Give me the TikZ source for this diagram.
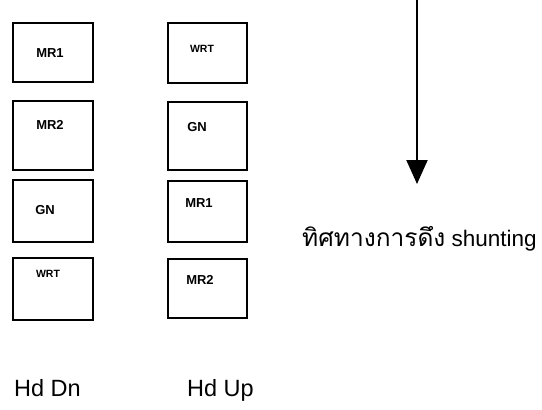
\documentclass[tikz,border=0pt]{standalone}
\usepackage{fontspec}
\setmainfont{Liberation Sans}
\newfontfamily\thaifont[Script=Thai]{Loma}
\usetikzlibrary{arrows.meta}
\tikzset{
  car/.style={draw, line width=1.8pt, minimum width=80pt, minimum height=60pt, inner sep=0pt},
  lbl/.style={inner sep=0pt, font=\fontsize{13}{13}\selectfont\bfseries},
  smalllbl/.style={inner sep=0pt, font=\fontsize{10.5}{10.5}\selectfont\bfseries},
  head/.style={inner sep=0pt, anchor=base west, font=\fontsize{23.5}{24}\selectfont},
  dirarrow/.style={line width=2pt, -{Triangle[width=21pt,length=24pt]}}
}
\begin{document}
\begin{tikzpicture}[x=1pt,y=-1pt]
\useasboundingbox (0,0) rectangle (542,410);
% left column (Hd Dn)
\node[car, minimum height=59pt] (l1) at (53,52.5) {};
\node[car, minimum height=69pt] (l2) at (53,135.5) {};
\node[car, minimum height=62pt] (l3) at (53,211) {};
\node[car, minimum height=62pt] (l4) at (53,289) {};
% right column (Hd Up)
\node[car, minimum width=79pt] (r1) at (207.5,53) {};
\node[car, minimum width=79pt, minimum height=68pt] (r2) at (207.5,136) {};
\node[car, minimum width=79pt, minimum height=61pt] (r3) at (207.5,211.5) {};
\node[car, minimum width=79pt, minimum height=59pt] (r4) at (207.5,288.5) {};
% labels
\node[lbl] (t1) at (50,53) {MR1};
\node[lbl] (t2) at (50,125) {MR2};
\node[lbl] (t3) at (45,210) {GN};
\node[smalllbl] (t4) at (48,274) {WRT};
\node[smalllbl] (u1) at (202,49) {WRT};
\node[lbl] (u2) at (197,127) {GN};
\node[lbl] (u3) at (199,203) {MR1};
\node[lbl] (u4) at (200,280) {MR2};
% captions
\node[head] (hdn) at (14,396) {Hd Dn};
\node[head] (hup) at (187,396) {Hd Up};
% direction arrow
\coordinate (atop) at (417,0);
\coordinate (atip) at (417,184);
\draw[dirarrow] (atop) -- (atip);
\node[head, font=\fontsize{22.5}{24}\selectfont] (dir) at (302,246) {{\thaifont\fontsize{24.5}{26}\selectfont ทิศทางการดึง} shunting};
\end{tikzpicture}
\end{document}
